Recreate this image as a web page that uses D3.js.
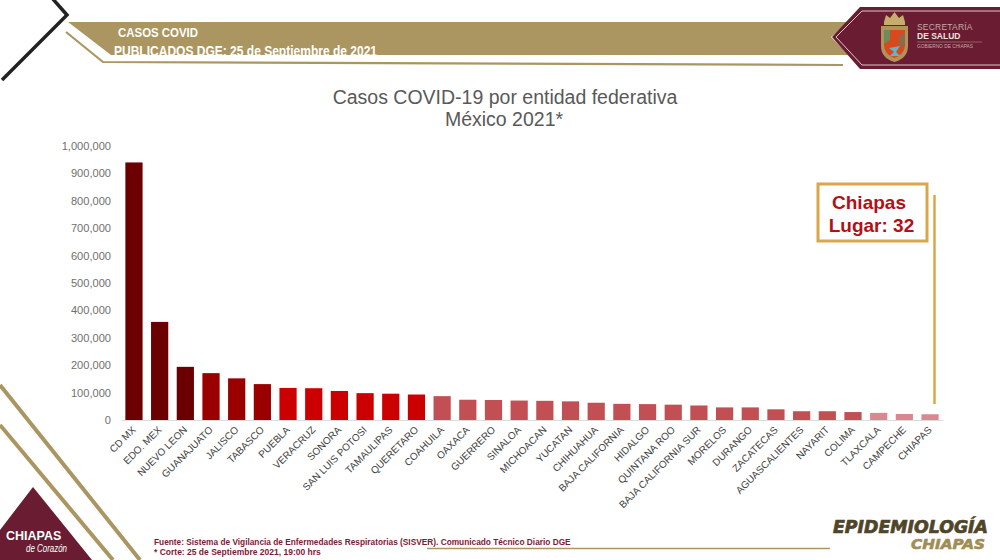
<!DOCTYPE html>
<html>
<head>
<meta charset="utf-8">
<script src="https://cdn.jsdelivr.net/npm/d3@7"></script>
<style>
  html, body { margin: 0; padding: 0; background: #fff; }
  svg { display: block; }
  text { font-family: "Liberation Sans", Arial, sans-serif; }
</style>
</head>
<body>
<div id="chart"></div>
<script>
// ─── DATA ─────────────────────────────────────────────────────────────────────
const estados = [
  "CD MX", "EDO. MEX", "NUEVO LEON", "GUANAJUATO", "JALISCO", "TABASCO", "PUEBLA", "VERACRUZ",
  "SONORA", "SAN LUIS POTOSI", "TAMAULIPAS", "QUERETARO", "COAHUILA", "OAXACA", "GUERRERO", "SINALOA",
  "MICHOACAN", "YUCATAN", "CHIHUAHUA", "BAJA CALIFORNIA", "HIDALGO", "QUINTANA ROO", "BAJA CALIFORNIA SUR", "MORELOS",
  "DURANGO", "ZACATECAS", "AGUASCALIENTES", "NAYARIT", "COLIMA", "TLAXCALA", "CAMPECHE", "CHIAPAS"
];
const casos = [
  940000, 358000, 194000, 171000, 152000, 131000, 117000, 116000,
  106000, 98000, 96000, 93000, 87000, 74000, 73000, 71000,
  70000, 68000, 63000, 59000, 58000, 56000, 53000, 46000,
  46000, 39000, 32000, 32000, 29000, 26000, 22000, 21000
];
// colour group of each bar, by position
const grupos = [
  0, 0, 0, 1, 1, 1, 2, 2,
  2, 2, 2, 2, 3, 3, 3, 3,
  3, 3, 3, 3, 3, 3, 3, 3,
  3, 3, 3, 3, 3, 4, 4, 4
];
const coloresGrupo = ["#6a0000", "#9a0000", "#cc0000", "#c24f53", "#d98890"];
const ticksY = [0, 100000, 200000, 300000, 400000, 500000, 600000, 700000, 800000, 900000, 1000000];

const W = 1000, H = 560;
const GOLD = "#ab9661", MAROON = "#691c32";

const svg = d3.select("#chart").append("svg").attr("width", W).attr("height", H);
const line = d3.line();

// ─── HEADER ───────────────────────────────────────────────────────────────────
// black chevron, top left
svg.append("path")
  .attr("d", line([[52, -2], [67, 15], [2, 80]]))
  .attr("fill", "none").attr("stroke", "#222").attr("stroke-width", 3.5);

// gold band and the thin line under it
svg.append("path")
  .attr("d", line([[68, 22], [849, 22], [831, 37], [849, 55], [111, 55]]) + "Z")
  .attr("fill", GOLD);
svg.append("path")
  .attr("d", line([[66, 32], [103, 62], [843, 65]]))
  .attr("fill", "none").attr("stroke", GOLD).attr("stroke-width", 2.2);

svg.append("text").attr("x", 118).attr("y", 37)
  .attr("fill", "#fff").attr("font-size", 13.5).attr("font-weight", 700)
  .attr("textLength", 80).attr("lengthAdjust", "spacingAndGlyphs")
  .text("CASOS COVID");
svg.append("text").attr("x", 114).attr("y", 56)
  .attr("fill", "#fff").attr("font-size", 14.5).attr("font-weight", 700)
  .attr("textLength", 263).attr("lengthAdjust", "spacingAndGlyphs")
  .text("PUBLICADOS DGE: 25 de Septiembre de 2021");

// maroon emblem panel
svg.append("path")
  .attr("d", line([[860, 7], [1000, 7], [1000, 69], [860, 69], [832, 37]]) + "Z")
  .attr("fill", MAROON);
svg.append("path")
  .attr("d", line([[1000, 11], [862, 11], [836, 37], [862, 65], [1000, 65]]))
  .attr("fill", "none").attr("stroke", "#e8dcd8").attr("stroke-width", 0.9);

// shield
svg.append("path")
  .attr("d", "M881 26H908V46Q908 58 894.5 62Q881 58 881 46Z")
  .attr("fill", "#b0935a");
svg.append("path")
  .attr("d", "M884 30H905V45Q905 54 894.5 58Q884 54 884 45Z")
  .attr("fill", "#d9481f");
svg.append("path")
  .attr("d", "M884 30H890V40L884 44Z")
  .attr("fill", "#6f8a5a");
svg.append("path")
  .attr("d", "M899 36L905 33V45L899 47Z")
  .attr("fill", "#8c6a4a");
svg.append("path")
  .attr("d", "M889 48L900 46L896 52L900 56H890L894 52Z")
  .attr("fill", "#5fb7c9");
svg.append("path")
  .attr("d", "M884 22L886 15L890 18L894.5 12L899 18L903 15L905 22V25H884Z")
  .attr("fill", "#c6ad6e");

svg.append("text").attr("x", 917).attr("y", 30)
  .attr("fill", "#c9a9a6").attr("font-size", 8.5).attr("letter-spacing", 0.2).text("SECRETARÍA");
svg.append("text").attr("x", 917).attr("y", 38.5)
  .attr("fill", "#ece3dc").attr("font-size", 8.5).attr("font-weight", 700).text("DE SALUD");
svg.append("line").attr("x1", 917).attr("x2", 982).attr("y1", 42).attr("y2", 42)
  .attr("stroke", "#b48d8d").attr("stroke-width", 0.6);
svg.append("text").attr("x", 917).attr("y", 48)
  .attr("fill", "#c9a9a6").attr("font-size", 4.8).text("GOBIERNO DE CHIAPAS");

// ─── TITLE ────────────────────────────────────────────────────────────────────
svg.append("text").attr("x", 505).attr("y", 104)
  .attr("text-anchor", "middle").attr("fill", "#595959").attr("font-size", 19.5)
  .text("Casos COVID-19 por entidad federativa");
svg.append("text").attr("x", 504).attr("y", 126)
  .attr("text-anchor", "middle").attr("fill", "#595959").attr("font-size", 19.5)
  .text("México 2021*");

// ─── BAR CHART ────────────────────────────────────────────────────────────────
const xScale = d3.scaleBand()
  .domain(estados)
  .range([121, 943])
  .paddingInner(0.33)
  .paddingOuter(0.17);

const yScale = d3.scaleLinear()
  .domain([0, 1000000])
  .range([420, 146]);

// y axis
const yAxis = svg.append("g")
  .attr("transform", "translate(111,0)")
  .call(d3.axisLeft(yScale).tickValues(ticksY).tickFormat(d3.format(",")).tickSize(0).tickPadding(0));
yAxis.select(".domain").remove();
yAxis.selectAll("text")
  .attr("fill", "#707070")
  .style("font-size", "11.1px")
  .style("font-family", '"Liberation Sans", Arial, sans-serif');

// bars
svg.selectAll(".bar")
  .data(estados)
  .enter()
  .append("rect")
  .attr("class", "bar")
  .attr("x", d => xScale(d))
  .attr("y", (d, i) => yScale(casos[i]))
  .attr("width", xScale.bandwidth())
  .attr("height", (d, i) => yScale(0) - yScale(casos[i]))
  .attr("fill", (d, i) => coloresGrupo[grupos[i]]);

// x axis
const xAxis = svg.append("g")
  .attr("transform", "translate(0,420)")
  .call(d3.axisBottom(xScale).tickSize(0).tickPadding(0));
xAxis.select(".domain").attr("stroke", "#dcdcdc").attr("stroke-width", 1);
xAxis.selectAll("text")
  .attr("fill", "#404040")
  .attr("text-anchor", "end")
  .attr("transform", "translate(0,8) rotate(-45)")
  .attr("x", 0).attr("y", 0).attr("dy", "0.35em")
  .style("font-size", "10px")
  .style("font-family", '"Liberation Sans", Arial, sans-serif');

// ─── CHIAPAS CALLOUT ──────────────────────────────────────────────────────────
svg.append("rect")
  .attr("x", 818).attr("y", 184).attr("width", 109).attr("height", 57)
  .attr("fill", "#fff").attr("stroke", "#dba64b").attr("stroke-width", 3);
svg.append("text").attr("x", 869).attr("y", 209)
  .attr("text-anchor", "middle").attr("fill", "#b01116").attr("font-size", 19).attr("font-weight", 700)
  .text("Chiapas");
svg.append("text").attr("x", 871.5).attr("y", 232)
  .attr("text-anchor", "middle").attr("fill", "#b01116").attr("font-size", 19).attr("font-weight", 700)
  .text("Lugar: 32");
svg.append("line")
  .attr("x1", 934.5).attr("x2", 934.5).attr("y1", 195).attr("y2", 404)
  .attr("stroke", "#d9a441").attr("stroke-width", 2.4);

// ─── FOOTER ───────────────────────────────────────────────────────────────────
svg.append("path")
  .attr("d", line([[0, 385], [140, 560]]))
  .attr("stroke", GOLD).attr("stroke-width", 4);
svg.append("path")
  .attr("d", line([[0, 425], [113, 560]]))
  .attr("stroke", GOLD).attr("stroke-width", 4);
svg.append("path")
  .attr("d", line([[33, 487], [92, 560], [0, 560], [0, 530]]) + "Z")
  .attr("fill", MAROON);
svg.append("text").attr("x", 6).attr("y", 540)
  .attr("fill", "#fff").attr("font-size", 12.5).attr("font-weight", 700).text("CHIAPAS");
svg.append("text").attr("x", 26).attr("y", 552)
  .attr("fill", "#fff").attr("font-size", 10).attr("font-style", "italic")
  .attr("textLength", 41).attr("lengthAdjust", "spacingAndGlyphs")
  .text("de Corazón");

svg.append("text").attr("x", 154).attr("y", 545)
  .attr("fill", "#7d1a38").attr("font-size", 8.3).attr("font-weight", 700)
  .text("Fuente: Sistema de Vigilancia de Enfermedades Respiratorias (SISVER). Comunicado Técnico Diario DGE");
svg.append("text").attr("x", 154).attr("y", 555)
  .attr("fill", "#7d1a38").attr("font-size", 8.5).attr("font-weight", 700)
  .text("* Corte:  25 de Septiembre 2021, 19:00 hrs");
svg.append("line")
  .attr("x1", 427).attr("x2", 830).attr("y1", 548.5).attr("y2", 548.5)
  .attr("stroke", GOLD).attr("stroke-width", 1.6);

svg.append("text").attr("x", 988).attr("y", 533)
  .attr("text-anchor", "end").attr("fill", "#4f4528").attr("stroke", "#4f4528").attr("stroke-width", 0.7)
  .attr("font-size", 17).attr("font-weight", 900).attr("font-style", "italic")
  .attr("textLength", 155).attr("lengthAdjust", "spacingAndGlyphs")
  .style("font-family", '"DejaVu Sans", sans-serif')
  .text("EPIDEMIOLOGÍA");
svg.append("text").attr("x", 985).attr("y", 549)
  .attr("text-anchor", "end").attr("fill", "#a08d55").attr("stroke", "#a08d55").attr("stroke-width", 0.6)
  .attr("font-size", 14).attr("font-weight", 900).attr("font-style", "italic")
  .attr("textLength", 74).attr("lengthAdjust", "spacingAndGlyphs")
  .style("font-family", '"DejaVu Sans", sans-serif')
  .text("CHIAPAS");
</script>
</body>
</html>
